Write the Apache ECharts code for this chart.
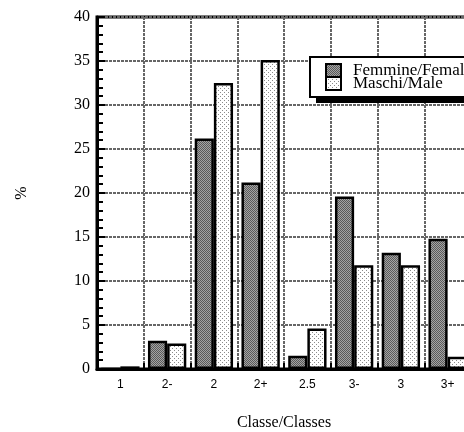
<!DOCTYPE html>
<html>
<head>
<meta charset="utf-8">
<script src="https://cdn.jsdelivr.net/npm/echarts@6/dist/echarts.min.js"></script>
<style>html,body{margin:0;padding:0;background:#fff}#c{width:464px;height:432px}</style>
</head>
<body>
<div id="c"></div>
<script>
var categories = ['1', '2-', '2', '2+', '2.5', '3-', '3', '3+'];
var femmine = [0, 3.2, 26.2, 21.2, 1.5, 19.6, 13.2, 14.8];
var maschi = [0.3, 2.9, 32.5, 35.1, 4.6, 11.8, 11.8, 1.4];
var seriesNames = ['Femmine/Females', 'Maschi/Male'];

function makePattern(kind) {
  var c = document.createElement('canvas');
  c.width = 4; c.height = 4;
  var g = c.getContext('2d');
  if (kind === 'f') {
    for (var y = 0; y < 4; y++) for (var x = 0; x < 4; x++) {
      g.fillStyle = ((x + y) % 2 === 0) ? '#5a5a5a' : '#a4a4a4';
      g.fillRect(x, y, 1, 1);
    }
  } else {
    g.fillStyle = '#ffffff'; g.fillRect(0, 0, 4, 4);
    g.fillStyle = '#8a8a8a';
    g.fillRect(0, 0, 1, 1); g.fillRect(2, 2, 1, 1);
  }
  return c;
}

var chart = echarts.init(document.getElementById('c'), null, {renderer: 'canvas'});
var serif = '"Liberation Serif", "DejaVu Serif", serif';
var gridLineStyle = {color: '#666', width: 2, type: [3, 1]};
chart.setOption({
  animation: false,
  backgroundColor: '#fff',
  grid: {left: 97, top: 17, width: 374, bottom: 63, outerBoundsMode: 'none', containLabel: false,
         show: true, borderColor: '#000', borderWidth: 3, backgroundColor: 'transparent'},
  graphic: [{type: 'rect', z: 1, shape: {x: 316, y: 64, width: 220, height: 39}, style: {fill: '#000'}, silent: true}],
  legend: {
    orient: 'vertical', left: 310, top: 57, z: 5,
    itemWidth: 15, itemHeight: 13, itemGap: -4,
    padding: [5, 10, 5, 15],
    backgroundColor: '#fff', borderColor: '#000', borderWidth: 2,
    icon: 'rect',
    textStyle: {fontFamily: serif, fontSize: 17, color: '#000', padding: [0, 0, 0, 7]},
    data: seriesNames
  },
  xAxis: {
    type: 'category', data: categories,
    name: 'Classe/Classes', nameLocation: 'middle', nameGap: 46,
    nameTextStyle: {fontFamily: serif, fontSize: 16, color: '#000'},
    axisLine: {lineStyle: {color: '#000', width: 3}},
    axisTick: {show: true, inside: true, length: 6, lineStyle: {color: '#000', width: 2}},
    axisLabel: {fontFamily: '"Liberation Sans", Arial, sans-serif', fontSize: 12, color: '#000', margin: 10},
    splitLine: {show: true, interval: 0, lineStyle: gridLineStyle}
  },
  yAxis: {
    type: 'value', min: 0, max: 40, interval: 5,
    name: '%', nameLocation: 'middle', nameGap: 67, nameRotate: 90,
    nameTextStyle: {fontFamily: serif, fontSize: 16, color: '#000'},
    axisLine: {show: true, lineStyle: {color: '#000', width: 3}},
    axisTick: {show: true, inside: true, length: 8, lineStyle: {color: '#000', width: 2}},
    minorTick: {show: true, splitNumber: 5, length: 6, lineStyle: {color: '#000', width: 2}},
    axisLabel: {fontFamily: serif, fontSize: 16, color: '#000', margin: 7},
    splitLine: {show: true, lineStyle: gridLineStyle}
  },
  series: [
    {name: seriesNames[0], type: 'bar', data: femmine, barGap: '0%', barCategoryGap: '18%',
     itemStyle: {color: {image: makePattern('f'), repeat: 'repeat'}, borderColor: '#000', borderWidth: 2.5}},
    {name: seriesNames[1], type: 'bar', data: maschi,
     itemStyle: {color: {image: makePattern('m'), repeat: 'repeat'}, borderColor: '#000', borderWidth: 2.5}}
  ]
});
</script>
</body>
</html>
